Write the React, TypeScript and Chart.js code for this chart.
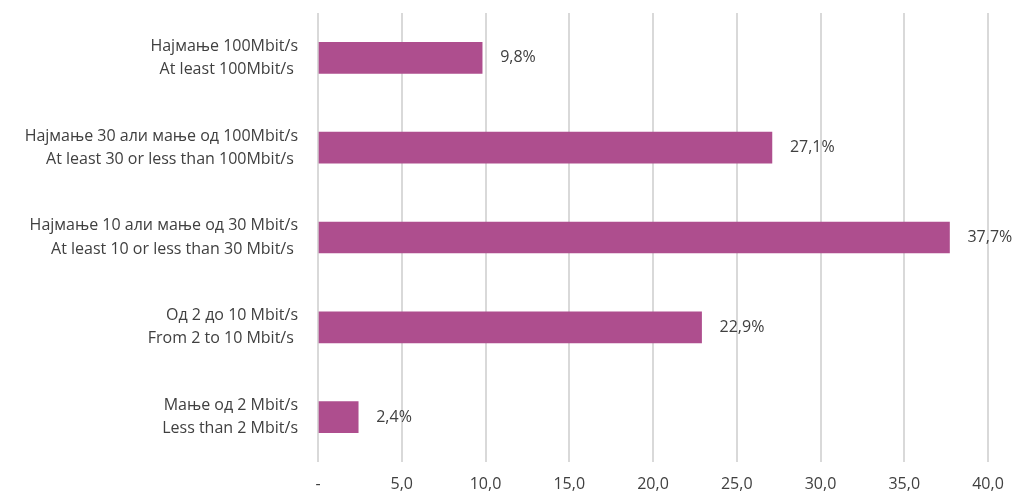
import React, { useEffect, useRef } from "react";
import { Chart, registerables } from "chart.js";

Chart.register(...registerables);

const categories: string[][] = [
  ["Најмање 100Mbit/s", "At least 100Mbit/s "],
  ["Најмање 30 али мање од 100Mbit/s", "At least 30 or less than 100Mbit/s "],
  ["Најмање 10 али мање од 30 Mbit/s", "At least 10 or less than 30 Mbit/s "],
  ["Од 2 до 10 Mbit/s", "From 2 to 10 Mbit/s "],
  ["Мање од 2 Mbit/s", "Less than 2 Mbit/s"],
];
const values: number[] = [9.8, 27.1, 37.7, 22.9, 2.4];
const xMin = 0;
const xMax = 40;
const xStep = 5;

const BAR_COLOR = "#AE4E8E";
const TEXT_COLOR = "#404040";
const FONT = "'Open Sans', 'DejaVu Sans', sans-serif";
const FONT_SIZE = 16;

const fmt = (v: number) => v.toFixed(1).replace(".", ",");

const valueLabels = {
  id: "valueLabels",
  afterDatasetsDraw(chart: any) {
    const ctx = chart.ctx;
    const meta = chart.getDatasetMeta(0);
    ctx.save();
    ctx.font = `${FONT_SIZE}px ${FONT}`;
    ctx.fillStyle = TEXT_COLOR;
    ctx.textAlign = "left";
    ctx.textBaseline = "middle";
    meta.data.forEach((bar: any, i: number) => {
      ctx.fillText(fmt(values[i]) + "%", bar.x + 18, bar.y);
    });
    ctx.restore();
  },
};

export default function App() {
  const ref = useRef<HTMLCanvasElement>(null);
  useEffect(() => {
    document.body.style.margin = "0";
    const chart = new Chart(ref.current!, {
      type: "bar",
      data: {
        labels: categories,
        datasets: [
          {
            data: values,
            backgroundColor: BAR_COLOR,
            borderWidth: 0,
            barThickness: 31,
          },
        ],
      },
      options: {
        indexAxis: "y",
        animation: false,
        responsive: false,
        maintainAspectRatio: false,
        layout: { padding: { top: 13, right: 29, bottom: 0, left: 0 } },
        plugins: { legend: { display: false }, tooltip: { enabled: false } },
        scales: {
          x: {
            min: xMin,
            max: xMax,
            ticks: {
              stepSize: xStep,
              color: TEXT_COLOR,
              font: { family: FONT, size: FONT_SIZE },
              padding: 13,
              callback: (v: any) => (Number(v) === 0 ? "-" : fmt(Number(v))),
            },
            grid: { color: "#D9D9D9", lineWidth: 2, drawTicks: false },
            border: { display: false },
            afterFit: (s: any) => {
              s.height = 32;
              s.paddingLeft = 0;
              s.paddingRight = 0;
            },
          },
          y: {
            ticks: {
              color: TEXT_COLOR,
              font: { family: FONT, size: FONT_SIZE, lineHeight: 1.45 },
              padding: 20,
            },
            grid: { display: false, drawTicks: false },
            border: { display: false },
            afterFit: (s: any) => {
              s.width = 318;
              s.paddingTop = 0;
              s.paddingBottom = 0;
            },
          },
        },
      },
      plugins: [valueLabels],
    });
    return () => chart.destroy();
  }, []);
  return (
    <div style={{ width: 1017, height: 494 }}>
      <canvas ref={ref} width={1017} height={494} style={{ width: 1017, height: 494 }} />
    </div>
  );
}
